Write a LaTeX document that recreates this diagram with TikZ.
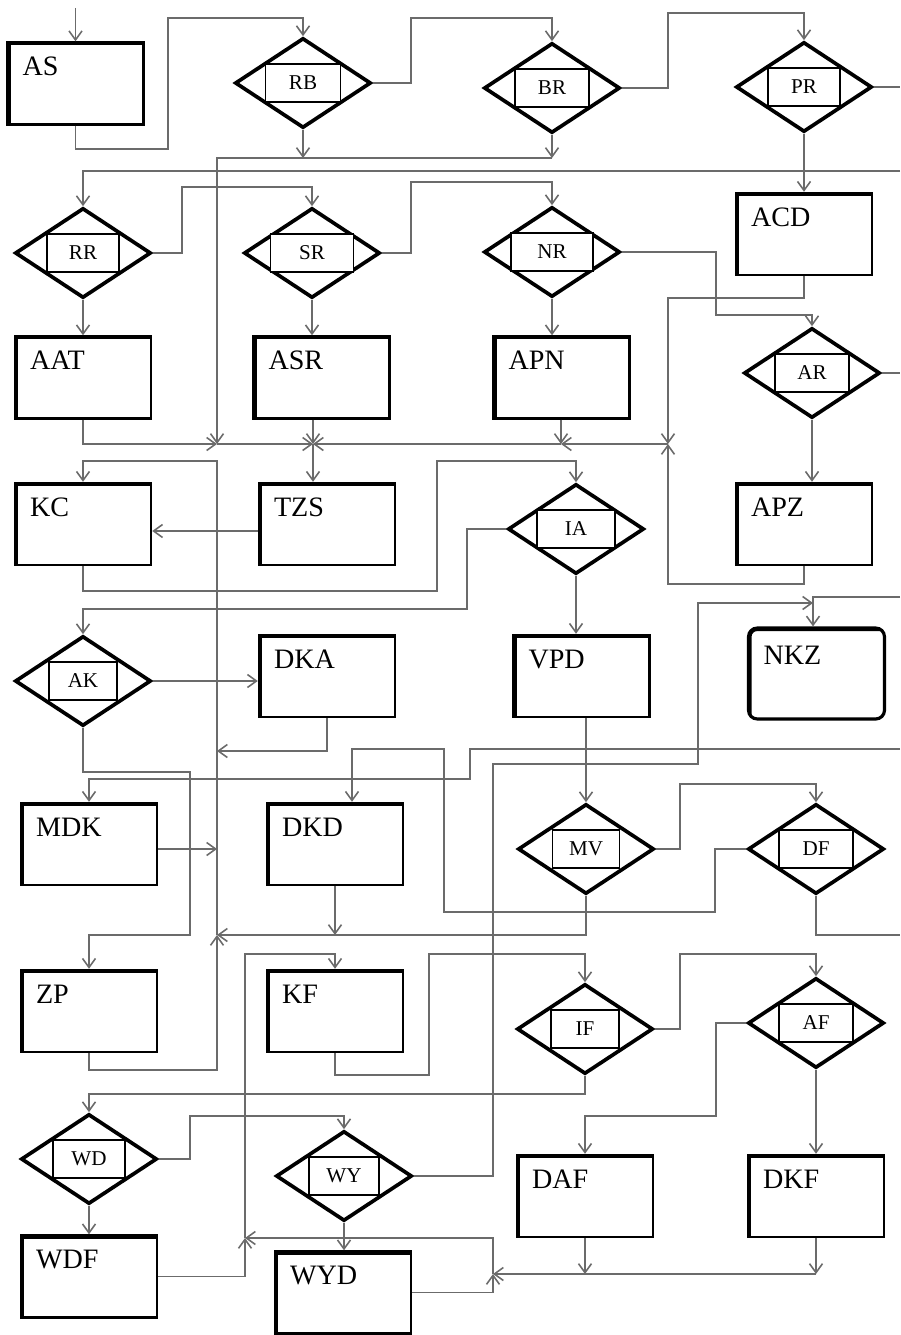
\documentclass[tikz,border=0pt]{standalone}
\usepackage{fontspec}
\setmainfont{Liberation Serif}
\usetikzlibrary{arrows.meta,shapes.geometric}

\begin{document}
\begin{tikzpicture}[x=0.02cm, y=-0.02cm, >={Straight Barb[length=1.8mm, width=2.6mm]},
    box/.style={draw, line width=1.4pt, minimum width=2.72cm, minimum height=1.64cm,
      text width=2.12cm, inner xsep=0.3cm, inner ysep=0pt, text height=0.66cm, text depth=0.98cm,
      align=left, font=\fontsize{16}{18}\selectfont,
      path picture={\draw[line width=3.4pt] (path picture bounding box.south west)
        -- (path picture bounding box.north west) -- (path picture bounding box.north east);}},
    gate/.style={diamond, draw, line width=2.1pt, aspect=1.5, minimum width=2.72cm, minimum height=1.8cm, inner sep=0pt},
    tag/.style={draw, line width=0.9pt, fill=white, minimum width=1.48cm, minimum height=0.76cm,
      inner sep=0pt, font=\fontsize{12}{14}\selectfont},
    wire/.style={draw=black!58, line width=0.9pt},
    flow/.style={wire, ->}]
  \useasboundingbox (0,0) rectangle (900,1335);
  % work blocks
  \node[box] (AS)  at (75.5,83.5)   {AS};
  \node[box] (ACD) at (804,234)     {ACD};
  \node[box] (AAT) at (83,377.5)    {AAT};
  \node[box] (ASR) at (321.5,377.5) {ASR};
  \node[box] (APN) at (561.5,377.5) {APN};
  \node[box] (KC)  at (83,524)      {KC};
  \node[box] (TZS) at (327,524)     {TZS};
  \node[box] (APZ) at (804,524)     {APZ};
  \node[box] (DKA) at (327,676)     {DKA};
  \node[box] (VPD) at (581.5,676)   {VPD};
  \node[box, rounded corners=5pt, line width=1.8pt, minimum height=1.82cm, text height=0.72cm, text depth=1.1cm] (NKZ) at (816.5,673.5) {NKZ};
  \node[box] (MDK) at (89,844)      {MDK};
  \node[box] (DKD) at (335,844)     {DKD};
  \node[box] (ZP)  at (89,1011)     {ZP};
  \node[box] (KF)  at (335,1011)    {KF};
  \node[box] (WDF) at (89,1276.5)   {WDF};
  \node[box] (WYD) at (343,1292.5)  {WYD};
  \node[box] (DAF) at (585,1196)    {DAF};
  \node[box] (DKF) at (816,1196)    {DKF};
  % decisions
  \node[gate] (RB) at (303,83) {};    \node[tag, minimum width=1.5cm] (RBt) at (RB) {RB};
  \node[gate] (BR) at (552,88) {};    \node[tag] (BRt) at (BR) {BR};
  \node[gate] (PR) at (804,87) {};    \node[tag, minimum width=1.44cm] (PRt) at (PR) {PR};
  \node[gate] (RR) at (83,253) {};    \node[tag, minimum width=1.44cm] (RRt) at (RR) {RR};
  \node[gate] (SR) at (312,253) {};   \node[tag, minimum width=1.66cm] (SRt) at (SR) {SR};
  \node[gate] (NR) at (552,252) {};   \node[tag, minimum width=1.64cm] (NRt) at (NR) {NR};
  \node[gate] (AR) at (812,373) {};   \node[tag] (ARt) at (AR) {AR};
  \node[gate] (IA) at (576,529) {};   \node[tag, minimum width=1.56cm] (IAt) at (IA) {IA};
  \node[gate] (AK) at (83,681) {};    \node[tag, minimum width=1.36cm] (AKt) at (AK) {AK};
  \node[gate] (MV) at (586,849) {};   \node[tag, minimum width=1.34cm] (MVt) at (MV) {MV};
  \node[gate] (DF) at (816,849) {};   \node[tag] (DFt) at (DF) {DF};
  \node[gate] (IF) at (585,1029) {};  \node[tag, minimum width=1.36cm] (IFt) at (IF) {IF};
  \node[gate] (AF) at (816,1023) {};  \node[tag] (AFt) at (AF) {AF};
  \node[gate] (WD) at (89,1159) {};   \node[tag, minimum width=1.44cm] (WDt) at (WD) {WD};
  \node[gate] (WY) at (344,1176) {};  \node[tag, minimum width=1.4cm] (WYt) at (WY) {WY};
  % junctions and loose ends
  \coordinate (in0) at (75.5,8);
  \coordinate (in1) at (900,171);
  \coordinate (in2) at (900,597);
  \coordinate (in3) at (900,749);
  \coordinate (out1) at (900,935);
  \coordinate (rim) at (900,0);
  \coordinate (bus) at (217,158);
  \coordinate (j1) at (217,444);
  \coordinate (j2) at (313,444);
  \coordinate (j3) at (561,444);
  \coordinate (j4) at (668,444);
  \coordinate (j5) at (217,935);
  \coordinate (j6) at (245,1238);
  \coordinate (j7) at (493,1274);
  \coordinate (jn) at (813,603);
  \coordinate (tap1) at (217,751);
  \coordinate (tap2) at (217,849);
  % top rows
  \draw[flow] (in0) -- (AS.north);
  \draw[flow] (AS.south) -- ++(0,23) -| (168,18) -| (RB.north);
  \draw[flow] (RB.east) -| (411,18) -| (BR.north);
  \draw[flow] (BR.east) -| (668,13) -| (PR.north);
  \draw[wire] (PR.east) -- (PR.east -| rim);
  \draw[flow] (PR.south) -- (PR.south |- ACD.north);
  \draw[flow] (RB.south) -- (RB.south |- bus);
  \draw[flow] (BR.south) -- (BR.south |- bus);
  \draw[flow] (BR.south |- bus) -| (j1);
  \draw[flow] (in1) -| (RR.north);
  \draw[flow] (RR.east) -| (182,187) -| (SR.north);
  \draw[flow] (SR.east) -| (411,182) -| (NR.north);
  \draw[flow] (NR.east) -| (716,315) -| (AR.north);
  \draw[flow] (RR.south) -- (RR.south |- AAT.north);
  \draw[flow] (SR.south) -- (SR.south |- ASR.north);
  \draw[flow] (NR.south) -- (NR.south |- APN.north);
  \draw[flow] (AR.south) -- (AR.south |- APZ.north);
  \draw[wire] (AR.east) -- (AR.east -| rim);
  % merge row above TZS
  \draw[flow] (ACD.south) -- ++(0,22) -| (j4);
  \draw[flow] (APZ.south) -- ++(0,18) -| (j4);
  \draw[flow] (j4) -- (j3);
  \draw[flow] (APN.south -| j3) -- (j3);
  \draw[flow] (j3) -- (j2);
  \draw[flow] (AAT.south) |- (j1);
  \draw[flow] (j1) -- (j2);
  \draw[flow] (ASR.south -| j2) -- (j2);
  \draw[flow] (j2) -- (j2 |- TZS.north);
  % middle
  \draw[flow] (j5) -- (217,461) -| (KC.north);
  \draw[flow] ([yshift=-0.14cm]TZS.west) -- ([yshift=-0.14cm]TZS.west -| KC.east);
  \draw[flow] (KC.south) -- ++(0,25) -| (437,461) -| (IA.north);
  \draw[flow] (IA.west) -| (467,609) -| (AK.north);
  \draw[flow] (IA.south) -- (IA.south |- VPD.north);
  \draw[flow] (AK.east) -- (AK.east -| DKA.west);
  \draw[flow] (in2) -| (jn |- NKZ.north);
  \draw[flow] (WY.east) -| (493,764) -| (698,603) -- (jn);
  \draw[flow] (DKA.south) |- (tap1);
  \draw[flow] (MDK.east |- tap2) -- (tap2);
  \draw[flow] (AK.south) -- ++(0,44) -| (190,935) -| (ZP.north);
  \draw[flow] (in3) -| (470,779) -| (MDK.north);
  \draw[flow] (DF.west) -| (715,912) -| (444,749) -| ([xshift=0.34cm]DKD.north);
  \draw[flow] (MV.north |- VPD.south) -- (MV.north);
  \draw[flow] (MV.east) -| (680,784) -| (DF.north);
  \draw[flow] (MV.south) |- (j5);
  \draw[flow] (DKD.south) -- (DKD.south |- j5);
  \draw[wire] (DF.south) |- (out1);
  \draw[flow] (ZP.south) -- ++(0,17) -| (j5);
  % bottom
  \draw[flow] (j6) -- (245,954) -| (KF.north);
  \draw[flow] (KF.south) -- ++(0,22) -| (429,954) -| (IF.north);
  \draw[flow] (IF.east) -| (680,954) -| (AF.north);
  \draw[flow] (IF.south) -- ++(0,18) -| (WD.north);
  \draw[flow] (AF.west) -| (716,1116) -| (DAF.north);
  \draw[flow] (AF.south) -- (AF.south |- DKF.north);
  \draw[flow] (WD.east) -| (190,1116) -| (WY.north);
  \draw[flow] (WD.south) -- (WD.south |- WDF.north);
  \draw[flow] (WY.south) -- (WY.south |- WYD.north);
  \draw[flow] (DAF.south) -- (DAF.south |- j7);
  \draw[flow] (DKF.south) -- (DKF.south |- j7);
  \draw[flow] (DKF.south |- j7) -- (j7);
  \draw[flow] (WYD.east) -| (j7);
  \draw[flow] (j7) |- (j6);
  \draw[flow] (WDF.east) -| (j6);
\end{tikzpicture}
\end{document}
